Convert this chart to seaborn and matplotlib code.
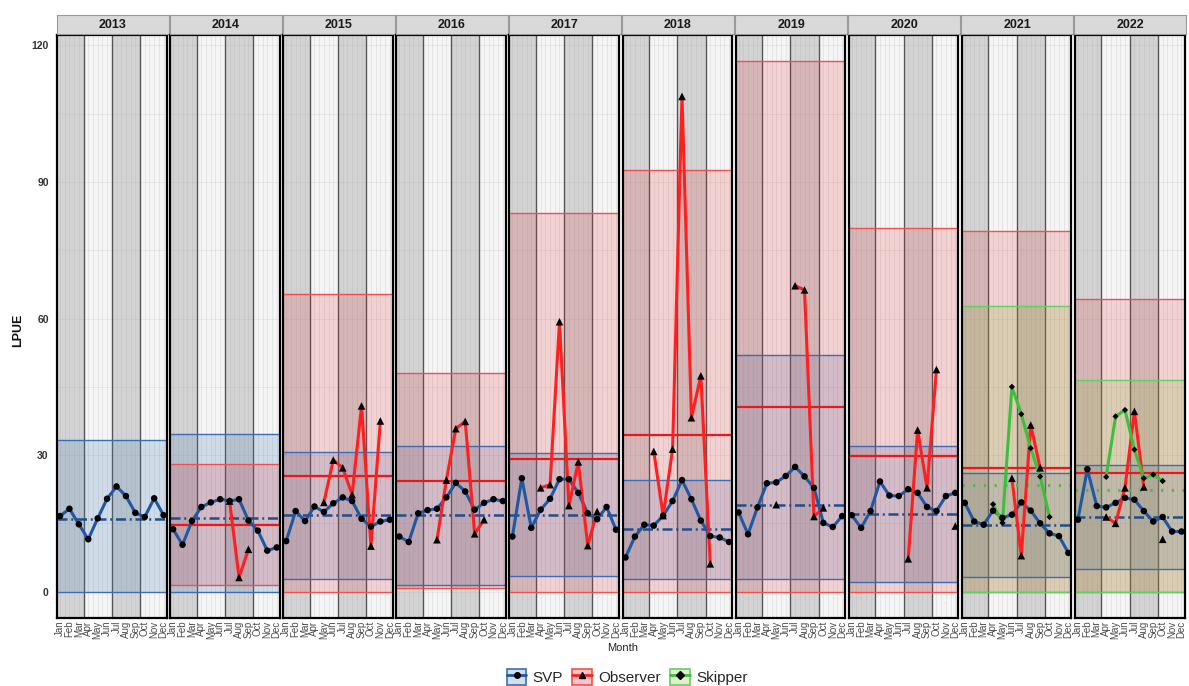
import numpy as np
import pandas as pd
import matplotlib
matplotlib.use("Agg")
import matplotlib.pyplot as plt
from matplotlib.lines import Line2D
from matplotlib.patches import Rectangle
from matplotlib.legend_handler import HandlerTuple
import seaborn as sns

years = [2013, 2014, 2015, 2016, 2017, 2018, 2019, 2020, 2021, 2022]
months = ["Jan", "Feb", "Mar", "Apr", "May", "Jun",
          "Jul", "Aug", "Sep", "Oct", "Nov", "Dec"]
N = None

# monthly LPUE per year (None = no data that month)
svp_lpue = [
    [16.6, 18.2, 14.8, 11.5, 16.1, 20.4, 23.1, 21.0, 17.3, 16.4, 20.5, 16.8],
    [13.7, 10.3, 15.5, 18.6, 19.6, 20.3, 19.9, 20.3, 15.6, 13.4, 9.0, 9.7],
    [11.1, 17.7, 15.5, 18.7, 17.5, 19.4, 20.7, 19.9, 16.0, 14.3, 15.4, 15.8],
    [12.1, 10.9, 17.2, 17.9, 18.2, 20.7, 23.9, 22.0, 18.0, 19.5, 20.3, 19.9],
    [12.1, 24.9, 14.0, 18.0, 20.4, 24.7, 24.7, 21.7, 17.2, 15.9, 18.6, 13.6],
    [7.5, 12.1, 14.7, 14.5, 16.7, 19.9, 24.5, 20.3, 15.6, 12.2, 11.9, 10.9],
    [17.4, 12.6, 18.5, 23.8, 24.0, 25.4, 27.4, 25.3, 22.8, 15.1, 14.2, 16.6],
    [16.8, 14.0, 17.7, 24.2, 21.1, 21.0, 22.5, 21.7, 18.6, 17.7, 21.0, 21.7],
    [19.5, 15.4, 14.7, 17.8, 16.2, 16.9, 19.6, 17.8, 15.0, 12.8, 12.2, 8.5],
    [15.8, 26.9, 18.8, 18.5, 19.5, 20.6, 20.2, 17.7, 15.4, 16.4, 13.2, 13.2],
]
observer_lpue = [
    None,
    [N, N, N, N, N, N, 19.9, 3.1, 9.3, N, N, N],
    [N, N, N, N, 19.6, 28.9, 27.2, 21.3, 40.8, 10.0, 37.5, N],
    [N, N, N, N, 11.4, 24.5, 35.8, 37.4, 12.7, 15.8, N, N],
    [N, N, N, 22.8, 23.5, 59.3, 18.9, 28.5, 10.1, 17.6, N, N],
    [N, N, N, 30.8, 16.7, 31.3, 108.8, 38.2, 47.4, 6.1, N, N],
    [N, N, N, N, 19.1, N, 67.2, 66.3, 16.5, 18.4, N, N],
    [N, N, N, N, N, N, 7.2, 35.5, 22.8, 48.8, N, 14.4],
    [N, N, N, N, N, 24.9, 7.9, 36.6, 27.2, N, N, N],
    [N, N, N, 16.4, 15.0, 22.8, 39.6, 23.0, N, 11.5, N, N],
]
skipper_lpue = [
    None, None, None, None, None, None, None, None,
    [N, N, N, 19.2, 15.1, 45.0, 39.0, 31.5, 25.3, 16.4, N, N],
    [N, N, N, 25.2, 38.5, 39.9, 31.2, 24.9, 25.7, 24.3, N, N],
]

# yearly mean and control limits
svp_mean = [16.0, 16.2, 16.9, 16.8, 16.9, 13.7, 19.1, 17.0, 14.7, 16.5]
svp_upper = [33.4, 34.7, 30.6, 32.0, 30.5, 24.5, 52.0, 32.0, 26.1, 27.8]
svp_lower = [0.0, 0.0, 2.8, 1.4, 3.5, 2.8, 2.7, 2.1, 3.2, 4.9]
obs_mean = [N, 14.7, 25.3, 24.2, 29.1, 34.3, 40.5, 29.9, 27.2, 26.0]
obs_upper = [N, 28.0, 65.5, 48.0, 83.2, 92.6, 116.5, 79.9, 79.3, 64.4]
obs_lower = [N, 1.4, 0.0, 0.7, 0.0, 0.0, 0.0, 0.0, 0.0, 0.0]
skip_mean = [N, N, N, N, N, N, N, N, 23.4, 22.4]
skip_upper = [N, N, N, N, N, N, N, N, 62.8, 46.4]
skip_lower = [N, N, N, N, N, N, N, N, 0.0, 0.0]

sources = ["SVP", "Observer", "Skipper"]
line_col = {"SVP": "#1F57A3", "Observer": "#FF1F1F", "Skipper": "#3DBE3D"}
fill_col = {"SVP": "#4F81BD", "Observer": "#E41A1C", "Skipper": "#7FBF3F"}
fill_alpha = {"SVP": 0.22, "Observer": 0.16, "Skipper": 0.2}
edge_col = {"SVP": "#3A6DB5", "Observer": "#F05050", "Skipper": "#66CC66"}
mean_col = {"SVP": "#1F4E8C", "Observer": "#E8181C", "Skipper": "#4CB84C"}
mean_dash = {"SVP": (4, 1.5, 0.8, 1.5), "Observer": None, "Skipper": (0.7, 2.8)}
mean_lw = {"SVP": 1.8, "Observer": 1.6, "Skipper": 2.2}
marker_map = {"SVP": "o", "Observer": "^", "Skipper": "D"}
size_map = {"SVP": 22, "Observer": 30, "Skipper": 10}

# long table, with a segment id so that gaps in a series break the line
rows = []
for yi, yr in enumerate(years):
    for src, table in zip(sources, [svp_lpue, observer_lpue, skipper_lpue]):
        vals = table[yi]
        if vals is None:
            continue
        seg, prev = 0, False
        for m, v in enumerate(vals, start=1):
            if v is None:
                prev = False
                continue
            if not prev:
                seg += 1
            prev = True
            rows.append(dict(year=yr, month=m, lpue=v, source=src,
                             seg=f"{src}-{seg}"))
df = pd.DataFrame(rows)

limits = {
    "SVP": (svp_mean, svp_upper, svp_lower),
    "Observer": (obs_mean, obs_upper, obs_lower),
    "Skipper": (skip_mean, skip_upper, skip_lower),
}

sns.set_theme(style="white")
plt.rcParams["font.family"] = ["Liberation Sans", "DejaVu Sans"]

W, H = 1189, 686
fig = plt.figure(figsize=(W / 100, H / 100), dpi=100)

for i, yr in enumerate(years):
    left = 57 + i * 113.1
    ax = fig.add_axes([left / W, 1 - 618 / H, 109.6 / W, 583 / H])
    ax.set_xlim(0.68, 12.32)
    ax.set_ylim(-5.8, 122.3)

    # quarter bands
    for q in range(4):
        ax.axvspan(0.5 + 3 * q, 3.5 + 3 * q, color="#D3D3D3" if q % 2 == 0 else "#F5F5F5",
                   lw=0, zorder=0)
    for xv in np.arange(0.5, 12.6, 0.5):
        ax.axvline(xv, color="#A8A8A8", lw=0.5, alpha=0.3, zorder=0.5)
    for yv in range(0, 121, 15):
        ax.axhline(yv, color="#A8A8A8", lw=0.5, alpha=0.25, zorder=0.5)
    for xv in [3.5, 6.5, 9.5]:
        ax.axvline(xv, color="#555555", lw=1.0, zorder=0.6)

    # control limit bands
    for src in sources:
        mean, up, lo = limits[src]
        if mean[i] is None:
            continue
        ax.axhspan(lo[i], up[i], color=fill_col[src], alpha=fill_alpha[src], lw=0, zorder=1)
        ax.axhline(up[i], color=edge_col[src], lw=1.0, zorder=1.2)
        ax.axhline(lo[i], color=edge_col[src], lw=1.0, zorder=1.2)
    for src in sources:
        mean = limits[src][0]
        if mean[i] is None:
            continue
        ml = ax.axhline(mean[i], color=mean_col[src], lw=mean_lw[src], zorder=1.5)
        if mean_dash[src] is not None:
            ml.set_dashes(mean_dash[src])

    d = df[df["year"] == yr]
    sns.lineplot(data=d, x="month", y="lpue", hue="source", units="seg",
                 estimator=None, palette=line_col, lw=2.2, legend=False,
                 ax=ax, zorder=2)
    sns.scatterplot(data=d, x="month", y="lpue", style="source", size="source",
                    markers=marker_map, sizes=size_map, color="black",
                    linewidth=0, legend=False, ax=ax, zorder=3)

    ax.set_xticks(range(1, 13))
    ax.set_xticklabels(months, rotation=90, fontsize=7, color="#4D4D4D")
    ax.set_yticks([0, 30, 60, 90, 120])
    if i == 0:
        ax.set_yticklabels(["0", "30", "60", "90", "120"], fontsize=7.5,
                           fontweight="bold", color="#333333")
    else:
        ax.set_yticklabels([])
    ax.tick_params(axis="both", length=0, pad=2)
    ax.tick_params(axis="y", pad=6)
    ax.set_xlabel("")
    ax.set_ylabel("")
    for sp in ax.spines.values():
        sp.set_color("black")
        sp.set_linewidth(1.6)

    # facet strip
    sx = fig.add_axes([(left - 0.5) / W, 1 - 34 / H, 112 / W, 19 / H])
    sx.set_facecolor("#D9D9D9")
    sx.set_xticks([])
    sx.set_yticks([])
    for sp in sx.spines.values():
        sp.set_color("#9A9A9A")
        sp.set_linewidth(0.8)
    sx.text(0.5, 0.5, str(yr), transform=sx.transAxes, ha="center", va="center",
            fontsize=9, fontweight="bold", color="#1A1A1A")

fig.text(18 / W, 1 - 330 / H, "LPUE", rotation=90, ha="center", va="center",
         fontsize=9, fontweight="bold", color="#111111")
fig.text(623 / W, 1 - 648 / H, "Month", ha="center", va="center",
         fontsize=8, color="#222222")

handles = []
for src in sources:
    box = Rectangle((0, 0), 1, 1, facecolor=fill_col[src], alpha=0.25, lw=0)
    box_edge = Rectangle((0, 0), 1, 1, facecolor="none",
                         edgecolor=edge_col[src], lw=1.2)
    ln = Line2D([], [], color=line_col[src], lw=2, marker=marker_map[src],
                markerfacecolor="black", markeredgecolor="black", markersize=4)
    handles.append((box, box_edge, ln))
fig.legend(handles=handles, labels=sources,
           handler_map={tuple: HandlerTuple(ndivide=1)},
           loc="center", bbox_to_anchor=(627 / W, 1 - 677 / H), ncol=3,
           frameon=False, fontsize=11, handlelength=1.3, handleheight=1.3,
           columnspacing=0.6, handletextpad=0.4)

fig.savefig("out.png", dpi=100)
